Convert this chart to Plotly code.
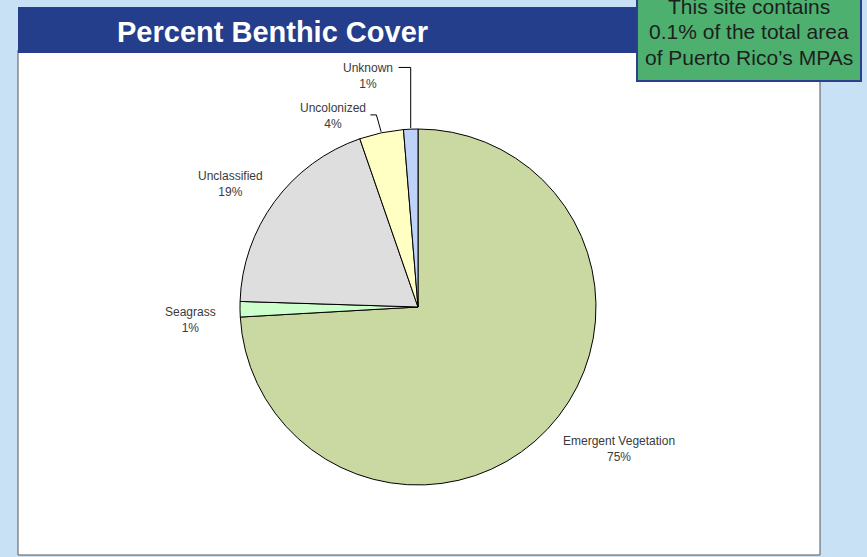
import numpy as np
import plotly.graph_objects as go

W, H = 867, 557

# slice data, clockwise from 12 o'clock
categories = ["Emergent Vegetation", "Seagrass", "Unclassified", "Uncolonized", "Unknown"]
values = [74.1, 1.4, 19.2, 4.0, 1.3]
pct_labels = ["75%", "1%", "19%", "4%", "1%"]
colors = ["#CAD8A1", "#CCFFCC", "#DEDEDE", "#FFFFC4", "#BFD2FA"]

note_lines = ["This site contains", "0.1% of the total area", "of Puerto Rico\u2019s MPAs"]

# pie geometry in pixels
cx, cy, r = 418, 307, 178


def px(x):
    return x / W


def py(y):
    return 1 - y / H


fig = go.Figure()
fig.add_trace(go.Pie(
    labels=categories, values=values, sort=False, direction="clockwise", rotation=0,
    marker=dict(colors=colors, line=dict(color="#000000", width=1)),
    textinfo="none", hoverinfo="label+percent", showlegend=False,
    domain=dict(x=[px(cx - r), px(cx + r)], y=[py(cy + r), py(cy - r)]),
))

# label placement: angle offset (deg) and distance from centre for each slice
label_shift = [-8, -2.5, -3, -12, -10]
label_dist = [246, 228, 224, 209, 236]

cum = np.cumsum([0] + values)
total = cum[-1]
annotations = []
shapes = []
for k, name in enumerate(categories):
    mid = (cum[k] + cum[k + 1]) / 2 / total * 360
    a = np.radians(mid + label_shift[k])
    lx = cx + label_dist[k] * np.sin(a)
    ly = cy - label_dist[k] * np.cos(a)
    annotations.append(dict(
        x=px(lx), y=py(ly), xref="paper", yref="paper", showarrow=False,
        xanchor="center", yanchor="middle",
        text=f"{name}<br>{pct_labels[k]}", align="center",
        font=dict(family="Arial, Liberation Sans", size=12, color="#3A3A3A"),
    ))
    # elbow leader lines for the two thin slices at the top
    if name in ("Unknown", "Uncolonized"):
        am = np.radians(mid)
        ex = cx + (r + 1) * np.sin(am)
        ey = cy - (r + 1) * np.cos(am)
        if name == "Unknown":
            sx, ty, kx = lx + 31, ly - 9, ex
        else:
            sx, ty, kx = lx + 37, ly - 1, lx + 43
        shapes.append(dict(
            type="path", xref="paper", yref="paper",
            path=f"M {px(sx)},{py(ty)} L {px(kx)},{py(ty)} L {px(ex)},{py(ey)}",
            line=dict(color="#000000", width=1),
        ))

# background panels
panel_shapes = [
    dict(type="rect", xref="paper", yref="paper", x0=px(18), x1=px(820), y0=py(555), y1=py(50),
         fillcolor="white", line=dict(color="#555555", width=1), layer="below"),
    dict(type="rect", xref="paper", yref="paper", x0=px(18), x1=px(820), y0=py(53), y1=py(7),
         fillcolor="#243E8C", line=dict(width=0), layer="below"),
    dict(type="rect", xref="paper", yref="paper", x0=px(637), x1=px(861), y0=py(81), y1=py(-5),
         fillcolor="#4DB06F", line=dict(color="#2B3F8E", width=2), layer="above"),
]

annotations.append(dict(
    x=px(272), y=py(32), xref="paper", yref="paper", showarrow=False,
    xanchor="center", yanchor="middle",
    text="<b>Percent Benthic Cover</b>",
    font=dict(family="Arial, Liberation Sans", size=29, color="white"),
))
for j, line in enumerate(note_lines):
    annotations.append(dict(
        x=px(749), y=py(6 + 25.5 * j), xref="paper", yref="paper", showarrow=False,
        xanchor="center", yanchor="middle", text=line,
        font=dict(family="Arial, Liberation Sans", size=21, color="#1E1E1E"),
    ))

fig.update_layout(
    width=W, height=H, margin=dict(l=0, r=0, t=0, b=0),
    paper_bgcolor="#C9E1F5", plot_bgcolor="#C9E1F5",
    shapes=panel_shapes + shapes, annotations=annotations,
)

fig.write_html("out.html", config=dict(displayModeBar=False),
               post_script="document.body.style.margin='0';")
